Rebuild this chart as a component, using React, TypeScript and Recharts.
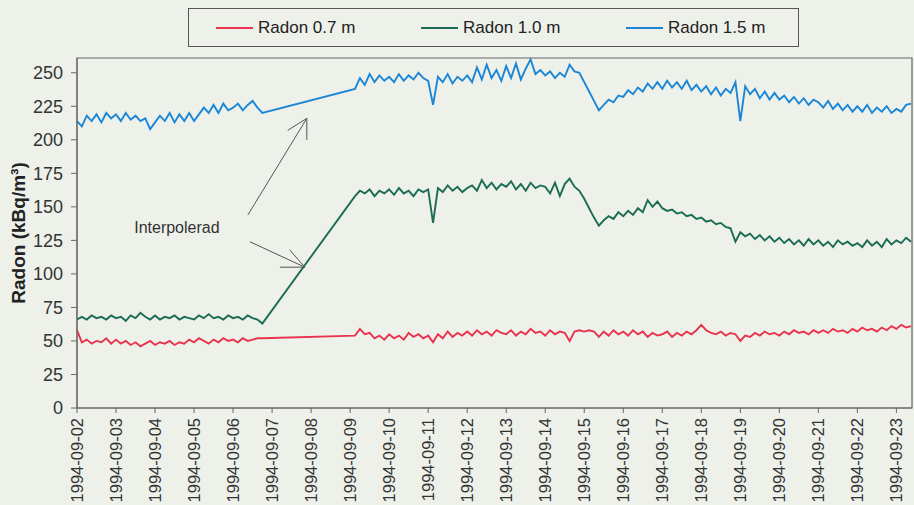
import { LineChart, Line, XAxis, YAxis, ReferenceArea, ReferenceLine, ReferenceDot } from 'recharts';

// Day labels for the x axis, one per tick (day 0 = 1994-09-02)
const dayLabels = [
  '1994-09-02', '1994-09-03', '1994-09-04', '1994-09-05', '1994-09-06', '1994-09-07',
  '1994-09-08', '1994-09-09', '1994-09-10', '1994-09-11', '1994-09-12', '1994-09-13',
  '1994-09-14', '1994-09-15', '1994-09-16', '1994-09-17', '1994-09-18', '1994-09-19',
  '1994-09-20', '1994-09-21', '1994-09-22', '1994-09-23',
];
const yTicks = [0, 25, 50, 75, 100, 125, 150, 175, 200, 225, 250];

// Readings every 3 hours. First block starts 09-02 00:00, second block 09-09 03:00;
// the stretch between them has no readings and is drawn as a straight line.
const STEP_DAYS = 0.125;
const firstStart = 0;
const secondStart = 7.125;

const red1 = [
  58, 49, 51, 48, 50, 49, 52, 48,
  51, 48, 50, 47, 49, 46, 48, 50,
  47, 49, 48, 50, 47, 49, 48, 51,
  49, 52, 50, 48, 51, 49, 52, 50,
  51, 49, 52, 50, 51, 52, 52,
];
const green1 = [
  66, 68, 66, 69, 67, 68, 66, 69,
  67, 68, 65, 69, 67, 71, 68, 66,
  69, 66, 68, 67, 69, 66, 68, 67,
  66, 69, 67, 70, 67, 68, 66, 69,
  67, 68, 66, 69, 67, 66, 63,
];
const blue1 = [
  214, 210, 218, 214, 219, 213, 220, 216,
  219, 214, 220, 215, 218, 214, 216, 208,
  213, 218, 214, 220, 213, 219, 214, 220,
  214, 219, 224, 220, 226, 220, 227, 222,
  224, 227, 222, 226, 229, 224, 220,
];

const red2 = [
  54, 59, 55, 56, 52, 54, 51,
  55, 52, 54, 51, 56, 53, 55, 52,
  54, 49, 55, 52, 57, 53, 56, 54,
  57, 54, 58, 55, 57, 54, 58, 56,
  55, 58, 54, 57, 55, 59, 56, 57,
  54, 58, 55, 57, 56, 50, 57, 58,
  57, 58, 57, 53, 57, 54, 58, 55,
  57, 54, 58, 55, 57, 53, 56, 54,
  55, 57, 53, 56, 54, 57, 55, 58,
  62, 58, 56, 55, 57, 54, 56, 55,
  50, 54, 53, 56, 54, 57, 55, 56,
  54, 57, 55, 58, 56, 57, 55, 58,
  56, 58, 56, 59, 57, 58, 56, 59,
  57, 60, 58, 59, 57, 60, 58, 61,
  59, 62, 60, 61,
];
const green2 = [
  158, 162, 160, 163, 158, 162, 160,
  163, 159, 164, 160, 162, 158, 163, 161,
  163, 138, 164, 161, 166, 162, 165, 161,
  164, 166, 162, 170, 164, 168, 163, 167,
  165, 169, 163, 167, 162, 168, 164, 166,
  165, 160, 168, 158, 167, 171, 165, 162,
  156, 149, 142, 136, 140, 143, 141, 146,
  143, 147, 144, 149, 146, 155, 150, 154,
  149, 147, 148, 145, 146, 143, 144, 141,
  142, 139, 140, 137, 138, 135, 134, 124,
  131, 128, 130, 126, 129, 125, 128, 124,
  127, 123, 126, 122, 125, 121, 126, 122,
  125, 121, 124, 120, 125, 122, 124, 121,
  123, 120, 125, 121, 124, 120, 126, 122,
  125, 123, 127, 124,
];
const blue2 = [
  238, 246, 241, 249, 243, 248, 244,
  247, 243, 249, 244, 248, 245, 250, 246,
  244, 226, 247, 243, 249, 242, 247, 244,
  248, 243, 254, 245, 256, 246, 252, 244,
  255, 246, 257, 245, 253, 260, 249, 252,
  248, 251, 246, 250, 247, 256, 251, 250,
  243, 236, 229, 222, 226, 230, 228, 233,
  232, 237, 234, 239, 236, 242, 238, 243,
  238, 244, 239, 243, 238, 244, 237, 241,
  236, 240, 234, 239, 233, 238, 235, 243,
  214, 240, 234, 238, 231, 236, 230, 235,
  230, 233, 228, 232, 227, 231, 226, 230,
  228, 224, 229, 223, 227, 222, 226, 221,
  225, 221, 226, 220, 224, 221, 225, 220,
  223, 221, 226, 227,
];

const X_MAX = 21.4;
const Y_MAX = 261;

const series = [
  { key: 'red', name: 'Radon 0.7 m', color: '#e8344e' },
  { key: 'green', name: 'Radon 1.0 m', color: '#1b6b55' },
  { key: 'blue', name: 'Radon 1.5 m', color: '#1b86d6' },
];

function block(start: number, red: number[], green: number[], blue: number[]) {
  return red.map((r, i) => ({ t: start + i * STEP_DAYS, red: r, green: green[i], blue: blue[i] }));
}

const data = [...block(firstStart, red1, green1, blue1), ...block(secondStart, red2, green2, blue2)];

// "Interpolerad" note and its two arrows, in chart units (day, kBq/m³)
const noteAt = { x: 2.56, y: 135 };
const arrows = [
  { from: { x: 4.38, y: 144 }, tip: { x: 5.89, y: 216 }, barbs: [{ x: 5.4, y: 207 }, { x: 5.89, y: 200 }] },
  { from: { x: 4.43, y: 124 }, tip: { x: 5.84, y: 105 }, barbs: [{ x: 5.45, y: 118 }, { x: 5.2, y: 105 }] },
];

const FONT = '"Liberation Sans", Arial, sans-serif';
const INK = '#333';

function DateTick(props: any) {
  const { x, y, payload } = props;
  return (
    <text
      x={x}
      y={y + 2}
      transform={`rotate(-90, ${x}, ${y + 2})`}
      textAnchor="end"
      dominantBaseline="central"
      fontSize={16.5}
      fontFamily={FONT}
      fill={INK}
    >
      {dayLabels[payload.value]}
    </text>
  );
}

function LegendBox() {
  return (
    <div
      style={{
        position: 'absolute', left: 188, top: 8, width: 582, height: 37,
        border: '1.5px solid #555', display: 'flex', alignItems: 'center',
        paddingLeft: 27, boxSizing: 'content-box', fontFamily: FONT, fontSize: 17, color: '#222',
      }}
    >
      {series.map((s) => (
        <div key={s.key} style={{ width: 205, flexShrink: 0, display: 'flex', alignItems: 'center' }}>
          <span style={{ width: 37, height: 2, background: s.color, marginRight: 5, display: 'inline-block' }} />
          <span>{s.name}</span>
        </div>
      ))}
    </div>
  );
}

export default function App() {
  return (
    <div style={{ position: 'absolute', left: 0, top: 0, width: 914, height: 505, background: '#edf1ea', overflow: 'hidden' }}>
      <LineChart width={914} height={505} data={data} margin={{ top: 58, right: 2, bottom: 0, left: 0 }}>
        <ReferenceArea x1={0} x2={X_MAX} y1={0} y2={Y_MAX} fill="none" stroke="#666" strokeWidth={1.2} />
        <XAxis
          dataKey="t"
          type="number"
          domain={[0, X_MAX]}
          ticks={dayLabels.map((_, i) => i)}
          interval={0}
          height={97}
          tickSize={5}
          tickMargin={3}
          tick={<DateTick />}
          stroke="#666"
        />
        <YAxis
          type="number"
          domain={[0, Y_MAX]}
          ticks={yTicks}
          interval={0}
          width={77}
          tickSize={6}
          tickMargin={8}
          stroke="#666"
          tick={{ fontSize: 18, fill: INK, fontFamily: FONT }}
          label={{
            value: 'Radon (kBq/m³)', angle: -90, position: 'insideLeft', offset: 18,
            style: { textAnchor: 'middle', fontWeight: 'bold', fontSize: 19, fill: '#222', fontFamily: FONT },
          }}
        />
        {series.map((s) => (
          <Line
            key={s.key}
            dataKey={s.key}
            name={s.name}
            type="linear"
            stroke={s.color}
            strokeWidth={1.9}
            dot={false}
            isAnimationActive={false}
          />
        ))}
        {arrows.map((a, i) => (
          <ReferenceLine key={`shaft${i}`} segment={[a.from, a.tip]} stroke="#555" strokeWidth={1} />
        ))}
        {arrows.flatMap((a, i) =>
          a.barbs.map((b, j) => (
            <ReferenceLine key={`barb${i}${j}`} segment={[b, a.tip]} stroke="#555" strokeWidth={1} />
          ))
        )}
        <ReferenceDot
          x={noteAt.x}
          y={noteAt.y}
          r={0}
          fill="none"
          stroke="none"
          label={{ value: 'Interpolerad', position: 'center', fill: INK, fontSize: 16, fontFamily: FONT }}
        />
      </LineChart>
      <LegendBox />
    </div>
  );
}
